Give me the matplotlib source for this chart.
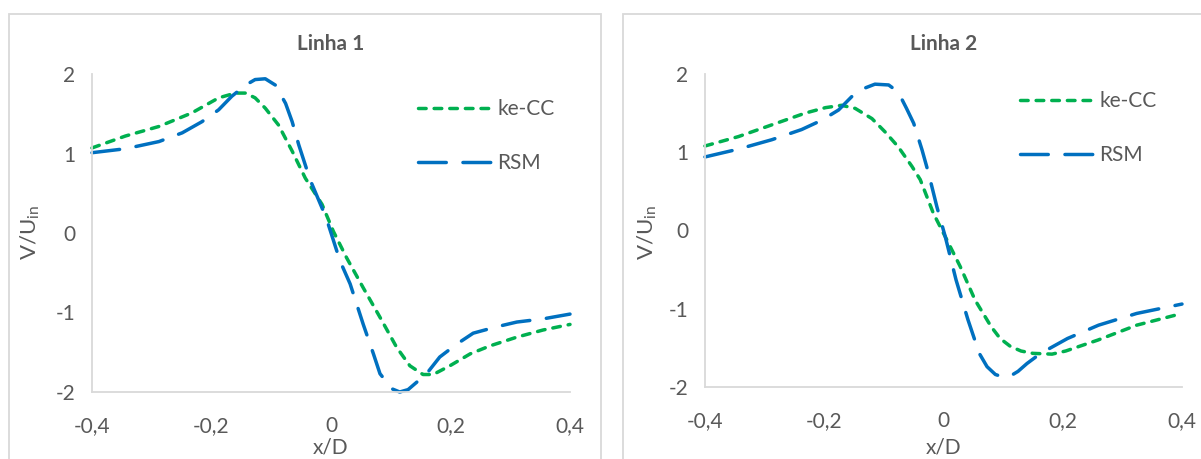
import matplotlib
matplotlib.use("Agg")
import matplotlib.pyplot as plt
from matplotlib.patches import Rectangle

plt.rcParams['font.family'] = ['Lato', 'DejaVu Sans']

# ---------------- data ----------------
x1_ke = [-0.4, -0.344, -0.288, -0.233, -0.188, -0.16, -0.143, -0.127, -0.11, -0.088, -0.065, -0.043,
         -0.015, 0.004, 0.026, 0.054, 0.082, 0.11, 0.132, 0.154, 0.171, 0.199, 0.233, 0.266, 0.311,
         0.355, 0.4]
y1_ke = [1.07, 1.22, 1.34, 1.51, 1.70, 1.76, 1.76, 1.70, 1.57, 1.36, 1.03, 0.69,
         0.36, 0.02, -0.31, -0.69, -1.06, -1.44, -1.67, -1.78, -1.78, -1.67, -1.52, -1.42, -1.31,
         -1.22, -1.15]
x1_rsm = [-0.4, -0.344, -0.288, -0.249, -0.216, -0.188, -0.166, -0.143, -0.127, -0.11, -0.093, -0.076,
          -0.065, -0.054, -0.035, -0.008, 0.015, 0.032, 0.054, 0.071, 0.082, 0.102, 0.115, 0.129,
          0.16, 0.182, 0.21, 0.238, 0.277, 0.311, 0.355, 0.4]
y1_rsm = [1.01, 1.06, 1.15, 1.26, 1.40, 1.55, 1.72, 1.86, 1.93, 1.94, 1.86, 1.63,
          1.40, 1.11, 0.67, 0.19, -0.35, -0.64, -1.15, -1.52, -1.77, -1.96, -2.0, -1.97,
          -1.77, -1.56, -1.40, -1.26, -1.18, -1.12, -1.08, -1.02]

x2_ke = [-0.4, -0.344, -0.288, -0.232, -0.198, -0.171, -0.148, -0.12, -0.098, -0.076, -0.053, -0.039,
         -0.017, 0.003, 0.028, 0.053, 0.08, 0.095, 0.112, 0.13, 0.15, 0.182, 0.205, 0.228, 0.259,
         0.324, 0.4]
y2_ke = [1.08, 1.20, 1.35, 1.50, 1.57, 1.60, 1.56, 1.43, 1.26, 1.07, 0.82, 0.65,
         0.22, -0.08, -0.46, -0.89, -1.23, -1.38, -1.48, -1.54, -1.57, -1.58, -1.54, -1.48, -1.40,
         -1.21, -1.06]
x2_rsm = [-0.4, -0.344, -0.288, -0.238, -0.204, -0.176, -0.154, -0.132, -0.115, -0.092, -0.076, -0.062,
          -0.05, -0.036, -0.025, -0.011, 0.003, 0.021, 0.041, 0.06, 0.073, 0.087, 0.099, 0.112,
          0.125, 0.14, 0.163, 0.208, 0.26, 0.324, 0.4]
y2_rsm = [0.94, 1.04, 1.16, 1.29, 1.41, 1.54, 1.71, 1.82, 1.87, 1.86, 1.77, 1.56,
          1.37, 1.03, 0.73, 0.30, -0.08, -0.63, -1.14, -1.57, -1.74, -1.84, -1.87, -1.86,
          -1.80, -1.70, -1.57, -1.38, -1.21, -1.06, -0.94]

x_ticks = [-0.4, -0.2, 0, 0.2, 0.4]
x_ticklabels = ['-0,4', '-0,2', '0', '0,2', '0,4']
y_ticks = [-2, -1, 0, 1, 2]
y_ticklabels = ['-2', '-1', '0', '1', '2']
titles = ['Linha 1', 'Linha 2']
series_names = ['ke-CC', 'RSM']

GREEN = '#00B050'
BLUE = '#0070C0'
TXT = '#595959'
AX = '#D9D9D9'
FS = 15

W, H = 1201, 459
fig = plt.figure(figsize=(W / 100, H / 100), dpi=100)

# chart-area borders
for (x0, x1) in [(8.5, 600.5), (622.5, 1230)]:
    fig.patches.append(Rectangle((x0 / W, (H - 13.5) / H - 1.2), (x1 - x0) / W, 1.2,
                                 transform=fig.transFigure, fill=False,
                                 edgecolor='#D9D9D9', lw=1.3))

axes_px = [(92, 570, 74, 392), (705, 1182, 74, 387)]
legend_px = [(418, 99), (1020, 91)]
data = [(x1_ke, y1_ke, x1_rsm, y1_rsm), (x2_ke, y2_ke, x2_rsm, y2_rsm)]
ylab_x = [30, 647]

for i in range(2):
    l, r, t, b = axes_px[i]
    ax = fig.add_axes([l / W, (H - b) / H, (r - l) / W, (b - t) / H])
    xk, yk, xr, yr = data[i]
    ax.plot(xk, yk, color=GREEN, lw=2.5, ls=(0, (2.2, 2.3)), label=series_names[0],
            dash_capstyle='round', solid_joinstyle='round')
    ax.plot(xr, yr, color=BLUE, lw=2.5, ls=(0, (8.0, 4.8)), label=series_names[1],
            dash_capstyle='round', solid_joinstyle='round')
    ax.set_xlim(-0.4, 0.4)
    ax.set_ylim(-2, 2)
    ax.set_xticks(x_ticks)
    ax.set_xticklabels(x_ticklabels)
    ax.set_yticks(y_ticks)
    ax.set_yticklabels(y_ticklabels)
    ax.tick_params(length=0, labelsize=FS, colors=TXT)
    ax.tick_params(axis='x', pad=17)
    ax.tick_params(axis='y', pad=12)
    for s in ['top', 'right']:
        ax.spines[s].set_visible(False)
    for s in ['left', 'bottom']:
        ax.spines[s].set_color(AX)
        ax.spines[s].set_linewidth(1.3)
    ax.set_xlabel('x/D', fontsize=FS, color=TXT)
    ax.xaxis.set_label_coords(0.5, (b - 448) / (b - t))
    ax.xaxis.label.set_va('center')
    fig.text(ylab_x[i] / W, (H - 232) / H, r'V/U$_{\mathregular{in}}$', rotation=90,
             fontsize=FS + 1, color=TXT, ha='center', va='center')
    ax.set_title(titles[i], fontsize=FS, fontweight='bold', color=TXT, pad=17)
    for ln in ax.lines:
        ln.set_clip_on(False)
    lx, ly = legend_px[i]
    leg = ax.legend(loc='upper left', bbox_to_anchor=(lx / W, (H - ly) / H),
                    bbox_transform=fig.transFigure, frameon=False, fontsize=FS,
                    handlelength=3.5, handletextpad=0.3, labelspacing=1.65,
                    borderpad=0, borderaxespad=0)
    for txt in leg.get_texts():
        txt.set_color(TXT)

fig.savefig('out.png', dpi=100)
